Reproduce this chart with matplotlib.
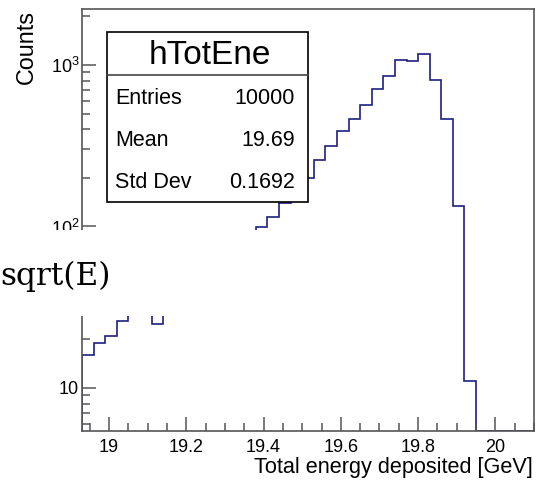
import matplotlib
matplotlib.use("Agg")
import matplotlib.pyplot as plt
from matplotlib.patches import Rectangle
from matplotlib.lines import Line2D
from matplotlib.ticker import FixedLocator, FixedFormatter, MultipleLocator, LogLocator, NullFormatter
import numpy as np

plt.rcParams['font.family'] = ['Liberation Sans', 'DejaVu Sans']
plt.rcParams['mathtext.fontset'] = 'custom'
plt.rcParams['mathtext.rm'] = 'Liberation Sans'
plt.rcParams['mathtext.it'] = 'Liberation Sans'

# histogram: 39 bins of 0.03 GeV starting at 18.93
bin_lo = 18.93
bin_w = 0.03
counts = [16, 19, 21, 26, 31, 34, 25, 38, 42, 47, 53, 59, 66, 74, 85,
          99, 115, 140, 168, 200, 258, 315, 390, 463, 565, 707, 855, 1074,
          1059, 1170, 807, 463, 134, 11, 0, 0, 0, 0, 0]
edges = bin_lo + bin_w * np.arange(len(counts) + 1)

stats_title = "hTotEne"
stats_names = ["Entries", "Mean", "Std Dev"]
stats_values = ["10000", "19.69", "0.1692"]

ytick_vals = [10, 100, 1000]
ytick_labels = ["10", "$10^{2}$", "$10^{3}$"]

xlim = (18.93, 20.10)
ylim = (5.415, 2222)

line_col = "#1f1f80"
frame_col = "#555555"

fig = plt.figure(figsize=(5.37, 4.88), dpi=100)
ax = fig.add_axes([82/537, 1 - 431/488, (534-82)/537, (431-9)/488])
ax.set_yscale("log")
ax.set_xlim(*xlim)
ax.set_ylim(*ylim)

vals = np.array(counts, dtype=float)
vals[vals <= 0] = ylim[0]
ax.stairs(vals, edges, baseline=ylim[0], color=line_col, lw=1.2)

for s in ax.spines.values():
    s.set_color(frame_col)
    s.set_linewidth(1.2)

ax.xaxis.set_major_locator(MultipleLocator(0.2))
ax.xaxis.set_minor_locator(MultipleLocator(0.05))
ax.xaxis.set_major_formatter(plt.FuncFormatter(lambda v, p: f"{v:g}"))
ax.yaxis.set_major_locator(FixedLocator(ytick_vals))
ax.yaxis.set_major_formatter(FixedFormatter(ytick_labels))
ax.yaxis.set_minor_locator(LogLocator(base=10, subs=np.arange(2, 10)))
ax.yaxis.set_minor_formatter(NullFormatter())
ax.tick_params(which="both", direction="in", color=frame_col, width=1.1,
               top=False, right=False, labelsize=13)
ax.tick_params(axis="x", which="major", length=10, pad=6)
ax.tick_params(axis="x", which="minor", length=6)
ax.tick_params(axis="y", which="major", length=10, pad=2)
ax.tick_params(axis="y", which="minor", length=6)

fig.text(533/537, 1 - 468/488, "Total energy deposited [GeV]", ha="right",
         va="center", fontsize=15.6)
fig.text(26.5/537, 1 - 10/488, "Counts", rotation=90, ha="center", va="top",
         fontsize=16.8)

# stats box
bx0, bx1 = 106.7/537, 308.3/537
by0, by1 = 1 - 201.7/488, 1 - 32.3/488
fig.add_artist(Rectangle((bx0, by0), bx1 - bx0, by1 - by0, transform=fig.transFigure,
                         facecolor="white", edgecolor="black", lw=1.2, zorder=5))
sep_y = 1 - 75/488
fig.add_artist(Line2D([bx0, bx1], [sep_y, sep_y], transform=fig.transFigure,
                      color="#444444", lw=1.2, zorder=6))
fig.text((bx0 + bx1) / 2 + 2/537, 1 - 55/488, stats_title, ha="center", va="center",
         fontsize=24, zorder=6)
row_y = [98, 140, 182]
for name, val, ry in zip(stats_names, stats_values, row_y):
    fig.text(115/537, 1 - ry/488, name, ha="left", va="center", fontsize=15.5, zorder=6)
    fig.text(295/537, 1 - ry/488, val, ha="right", va="center", fontsize=15.5, zorder=6)

# white overlay band with slide text
fig.add_artist(Rectangle((0, 1 - 316/488), 320/537, (316 - 229.5)/488,
                         transform=fig.transFigure, facecolor="white",
                         edgecolor="none", zorder=10))
fig.text(0.5/537, 1 - 285/488, "sqrt(E)", ha="left", va="baseline",
         fontsize=22.5, family="DejaVu Serif", zorder=11)

fig.savefig("out.png", dpi=100)
